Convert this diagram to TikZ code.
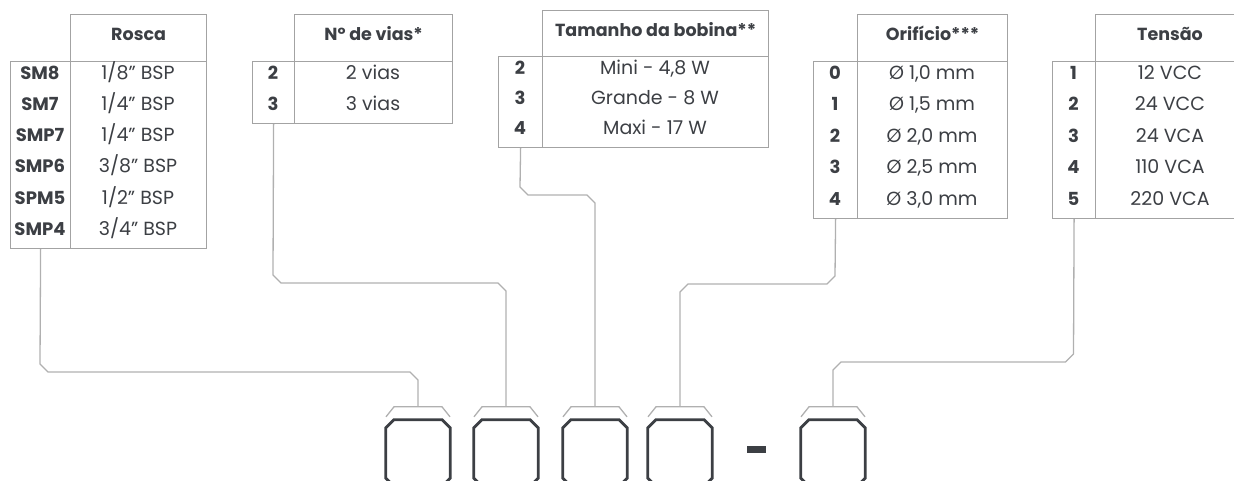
\documentclass[tikz,border=0pt]{standalone}
\usepackage{fontspec}
\setmainfont{Poppins}
\usetikzlibrary{positioning}
\definecolor{ink}{HTML}{3C3F44}
\definecolor{rulegray}{HTML}{A3A3A3}
\definecolor{wiregray}{HTML}{B0B0B0}

\begin{document}
\begin{tikzpicture}[
    x=1pt, y=-1pt,
    cell/.style={draw=rulegray, line width=1.2pt, inner sep=0pt, anchor=north west},
    head text/.style={font=\bfseries\fontsize{17.5}{18}\selectfont, text=ink, anchor=mid},
    key text/.style={font=\bfseries\fontsize{18}{18}\selectfont, text=ink, anchor=mid},
    val text/.style={font=\fontsize{19}{19}\selectfont, text=ink, anchor=mid},
    wire/.style={draw=wiregray, line width=1.3pt},
    slot/.style={minimum width=64pt, minimum height=66pt, inner sep=0pt},
    slot line/.style={draw=ink, line width=2.8pt, line join=miter}
]
    \useasboundingbox (0,0) rectangle (1234,480);

    % Rosca
    \node[cell, minimum width=136pt, minimum height=47pt] (roscahead) at (70,14) {};
    \node[cell, minimum width=60pt, minimum height=187pt] (roscakey) at (10,61) {};
    \node[cell, minimum width=136pt, minimum height=187pt] (roscaval) at (70,61) {};
    \node[head text] (roscatitle) at (roscahead.center) {Rosca};
    \foreach \k/\v [count=\i from 0] in {SM8/{1/8" BSP}, SM7/{1/4" BSP}, SMP7/{1/4" BSP},
        SMP6/{3/8" BSP}, SPM5/{1/2" BSP}, SMP4/{3/4" BSP}} {
        \node[key text] (roscak\i) at (40,76.5+31.2*\i) {\k};
        \node[val text] (roscav\i) at (138,76.5+31.2*\i) {\v};
    }

    % N de vias
    \node[cell, minimum width=158pt, minimum height=47pt] (viashead) at (294,14) {};
    \node[cell, minimum width=42pt, minimum height=62pt] (viaskey) at (252,61) {};
    \node[cell, minimum width=158pt, minimum height=62pt] (viasval) at (294,61) {};
    \node[head text] (viastitle) at (viashead.center) {Nº de vias*};
    \foreach \k/\v [count=\i from 0] in {2/2 vias, 3/3 vias} {
        \node[key text] (viask\i) at (273,76.5+31*\i) {\k};
        \node[val text] (viasv\i) at (373,76.5+31*\i) {\v};
    }

    % Tamanho da bobina
    \node[cell, minimum width=226pt, minimum height=46pt] (bobinahead) at (542,10) {};
    \node[cell, minimum width=44pt, minimum height=91pt] (bobinakey) at (498,56) {};
    \node[cell, minimum width=226pt, minimum height=91pt] (bobinaval) at (542,56) {};
    \node[head text] (bobinatitle) at (bobinahead.center) {Tamanho da bobina**};
    \foreach \k/\v [count=\i from 0] in {2/Mini - 4{,}8 W, 3/Grande - 8 W, 4/Maxi - 17 W} {
        \node[key text] (bobinak\i) at (520,71.5+30.3*\i) {\k};
        \node[val text] (bobinav\i) at (655,71.5+30.3*\i) {\v};
    }

    % Orificio
    \node[cell, minimum width=150pt, minimum height=47pt] (orificiohead) at (857,14) {};
    \node[cell, minimum width=44pt, minimum height=157pt] (orificiokey) at (813,61) {};
    \node[cell, minimum width=150pt, minimum height=157pt] (orificioval) at (857,61) {};
    \node[head text] (orificiotitle) at (orificiohead.center) {Orifício***};
    \foreach \k/\v [count=\i from 0] in {0/Ø 1{,}0 mm, 1/Ø 1{,}5 mm, 2/Ø 2{,}0 mm,
        3/Ø 2{,}5 mm, 4/Ø 3{,}0 mm} {
        \node[key text] (orificiok\i) at (835,76.7+31.4*\i) {\k};
        \node[val text] (orificiov\i) at (932,76.7+31.4*\i) {\v};
    }

    % Tensao
    \node[cell, minimum width=150pt, minimum height=47pt] (tensaohead) at (1095,14) {};
    \node[cell, minimum width=43pt, minimum height=157pt] (tensaokey) at (1052,61) {};
    \node[cell, minimum width=150pt, minimum height=157pt] (tensaoval) at (1095,61) {};
    \node[head text] (tensaotitle) at (1170,37.5) {Tensão};
    \foreach \k/\v [count=\i from 0] in {1/12 VCC, 2/24 VCC, 3/24 VCA, 4/110 VCA, 5/220 VCA} {
        \node[key text] (tensaok\i) at (1073.5,76.7+31.4*\i) {\k};
        \node[val text] (tensaov\i) at (1170,76.7+31.4*\i) {\v};
    }

    % Code slots
    \foreach \i/\cx in {1/418, 2/506, 3/595, 4/680, 5/833} {
        \node[slot] (slot\i) at (\cx,453) {};
        \draw[slot line] ([xshift=8pt]slot\i.north west) -- ([xshift=-8pt]slot\i.north east)
            -- ([yshift=-8pt]slot\i.north east) -- ([yshift=8pt]slot\i.south east)
            -- ([xshift=-8pt]slot\i.south east) -- ([xshift=8pt]slot\i.south west)
            -- ([yshift=8pt]slot\i.south west) -- ([yshift=-8pt]slot\i.north west) -- cycle;
        \coordinate (hook\i) at ([yshift=13pt]slot\i.north);
        \draw[wire] ([shift={(-32pt,3pt)}]slot\i.north) -- ++(8pt,10pt) -- ++(48pt,0pt) -- ++(8pt,-10pt);
    }
    \node[fill=ink, minimum width=19pt, minimum height=7pt, inner sep=0pt] (hyphen) at (756.5,449.5) {};

    % Leaders
    \draw[wire] (roscakey.south) -- (40,364) -- (48,372) -- (410,372) -- (418,380) -- (hook1);
    \draw[wire] (viaskey.south) -- (273,275) -- (281,283) -- (498,283) -- (506,291) -- (hook2);
    \draw[wire] (bobinakey.south) -- (520,187) -- (528,195) -- (587,195) -- (595,203) -- (hook3);
    \draw[wire] (orificiokey.south) -- (835,276) -- (827,284) -- (688,284) -- (680,292) -- (hook4);
    \draw[wire] (tensaokey.south) -- (1073.5,354) -- (1065.5,362) -- (841,362) -- (833,370) -- (hook5);
\end{tikzpicture}
\end{document}
